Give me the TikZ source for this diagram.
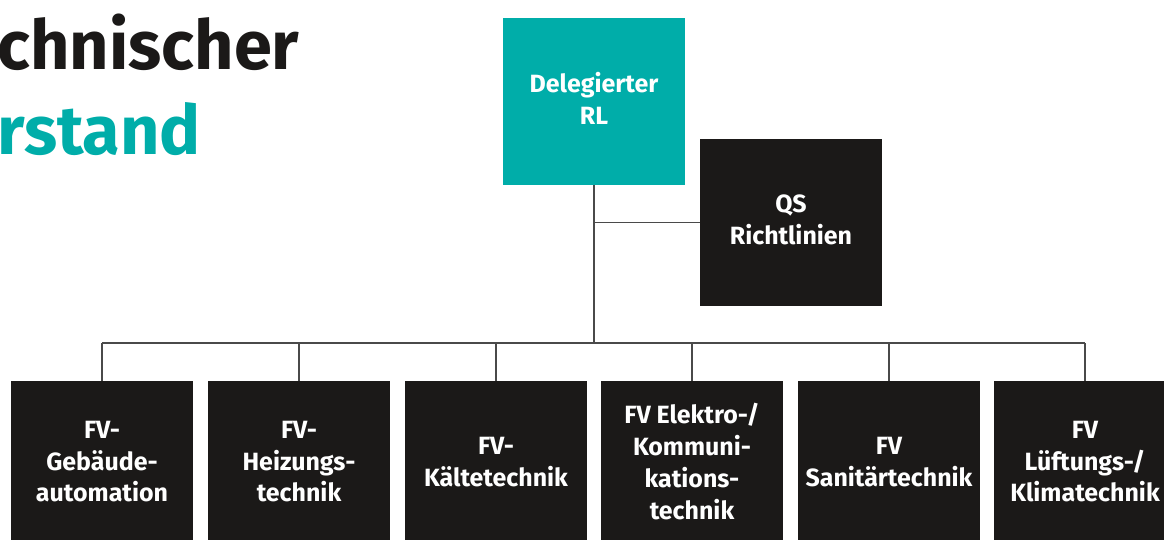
\documentclass[tikz,border=0pt]{standalone}
\usepackage{fontspec}
\setmainfont{Fira Sans}
\definecolor{vteal}{HTML}{00ADA9}
\definecolor{vblack}{HTML}{1B1918}
\definecolor{vline}{HTML}{4A4A4A}
\tikzset{
    box/.style={fill=vblack, text=white, font=\bfseries\fontsize{14.2}{18.1}\selectfont,
        align=center, inner sep=0pt, text depth=0.12cm, minimum width=3.64cm, minimum height=3.34cm},
    link/.style={draw=vline, line width=0.6pt},
    title/.style={anchor=base west, inner sep=0pt, font=\bfseries\fontsize{39}{48}\selectfont}
}
\begin{document}
\begin{tikzpicture}[x=0.02cm, y=-0.02cm]
    \useasboundingbox (0,0) rectangle (1164,540);
    % title, cut at the left edge
    \node[title, text=vblack] (t1) at (-3,70) {chnischer};
    \node[title, text=vteal] (t2) at (-3,155) {rstand};
    % head and staff
    \node[box, fill=vteal] (rl) at (594,101.5) {Delegierter\\RL};
    \node[box] (qs) at (791,222.5) {QS\\Richtlinien};
    % the six FV
    \foreach \i/\x/\txt in {1/102/{FV-\\Gebäude-\\automation}, 2/299/{FV-\\Heizungs-\\technik},
        3/496/{FV-\\Kältetechnik}, 4/692/{FV Elektro-/\\Kommuni-\\kations-\\technik},
        5/889/{FV\\Sanitärtechnik}, 6/1085/{FV\\Lüftungs-/\\Klimatechnik}}
        \node[box] (fv\i) at (\x,464.5) {\txt};
    \coordinate (bus) at (594,343);
    \draw[link] (rl.south) -- (bus);
    \draw[link] (rl.south |- qs.west) -- (qs.west);
    \draw[link] (fv1.north |- bus) -- (fv6.north |- bus);
    \foreach \i in {1,...,6}
        \draw[link] (fv\i.north) -- (fv\i.north |- bus);
\end{tikzpicture}
\end{document}
